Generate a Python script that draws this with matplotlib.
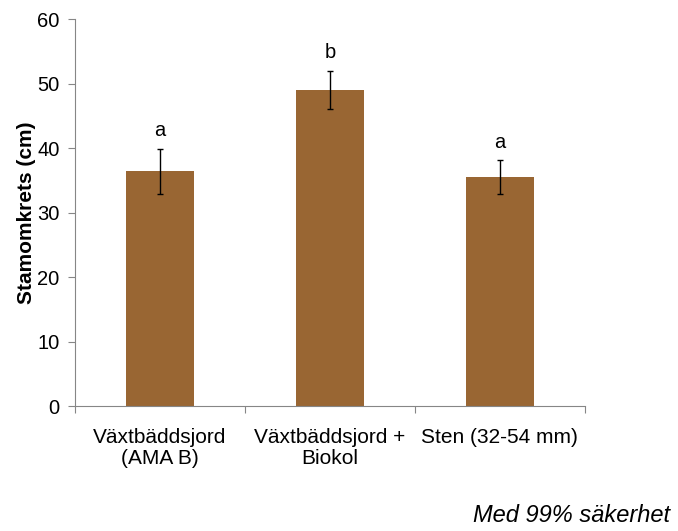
import matplotlib.pyplot as plt
import matplotlib
matplotlib.rcParams['font.family'] = ['Liberation Sans', 'DejaVu Sans']

categories = ['Växtbäddsjord\n(AMA B)', 'Växtbäddsjord +\nBiokol', 'Sten (32-54 mm)']
values = [36.4, 49.0, 35.5]
errors = [3.5, 3.0, 2.65]
letters = ['a', 'b', 'a']

fig = plt.figure(figsize=(6.78, 5.31), dpi=100)
ax = fig.add_axes([0.1106, 0.2354, 0.752, 0.7288])

x = list(range(len(categories)))
ax.bar(x, values, width=0.4, color='#996633', zorder=2)
ax.errorbar(x, values, yerr=errors, fmt='none', ecolor='black',
            elinewidth=1, capsize=2.5, capthick=1, zorder=3)
for xi, v, e, t in zip(x, values, errors, letters):
    ax.annotate(t, (xi, v + e), textcoords='offset points', xytext=(0, 6),
                ha='center', va='bottom', fontsize=14.5)

ax.set_xlim(-0.5, 2.5)
ax.set_ylim(0, 60)
ax.set_yticks(range(0, 61, 10))
ax.set_xticks([-0.5, 0.5, 1.5, 2.5])
ax.set_xticklabels([])
ax.set_xticks(x, minor=True)
ax.set_xticklabels(categories, minor=True, fontsize=15, linespacing=1.15)
ax.tick_params(axis='x', which='minor', length=0, pad=16)
ax.tick_params(axis='x', which='major', length=5, color='#868686')
ax.tick_params(axis='y', length=5, color='#868686', labelsize=14.5, pad=6)
ax.set_ylabel('Stamomkrets (cm)', fontsize=15, fontweight='bold', labelpad=1)

for s in ['top', 'right']:
    ax.spines[s].set_visible(False)
for s in ['left', 'bottom']:
    ax.spines[s].set_color('#868686')

fig.text(0.988, 0.008, 'Med 99% säkerhet', ha='right', va='bottom',
         fontsize=17, style='italic')

plt.savefig('out.png', dpi=100)
